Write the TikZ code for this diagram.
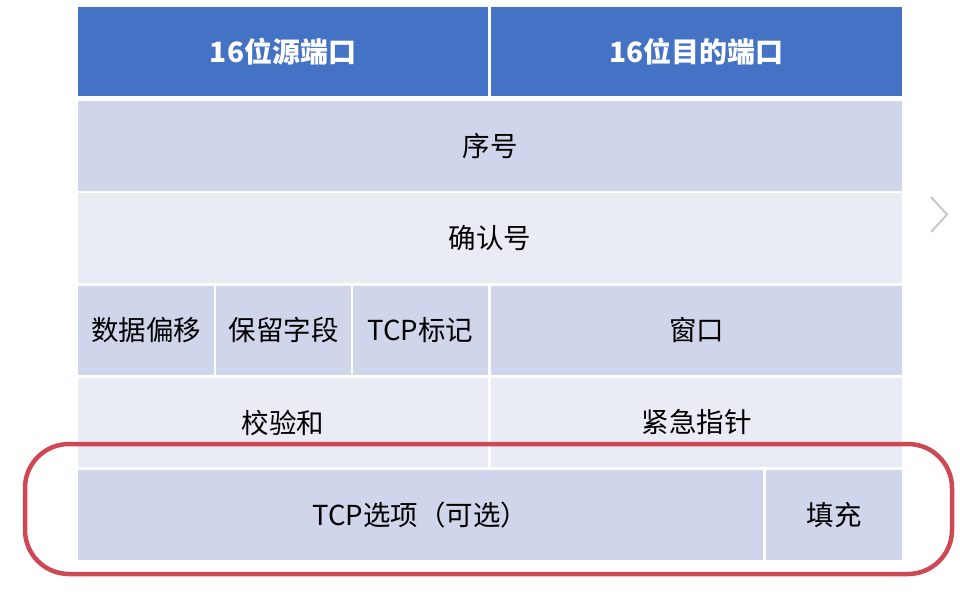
\documentclass[tikz,border=0pt]{standalone}
\usepackage{fontspec}
\newfontfamily\cjk{Noto Sans CJK SC}
\definecolor{hdrblue}{RGB}{68,114,196}
\definecolor{banddark}{RGB}{207,213,234}
\definecolor{bandlight}{RGB}{233,235,245}
\definecolor{markred}{RGB}{206,72,84}

\begin{document}
\begin{tikzpicture}[x=1pt, y=-1pt,
    cell/.style={inner sep=0pt, minimum height=89pt, font=\cjk\fontsize{27.5}{32}\selectfont},
    hdr/.style={cell, fill=hdrblue, text=white, font=\cjk\bfseries\fontsize{28}{32}\selectfont}]
                \useasboundingbox (0,0) rectangle (960,596);
                \node[hdr, minimum width=410pt] (src) at (283,51.5) {16位源端口};
                \node[hdr, minimum width=411pt] (dst) at (696.5,51.5) {16位目的端口};
                \node[cell, fill=banddark, minimum width=824pt] (seq) at (490,146) {序号};
                \node[cell, fill=bandlight, minimum width=824pt, minimum height=90pt] (ack) at (490,238) {确认号};
                \node[cell, fill=banddark, minimum width=136pt] (off) at (146,330.5) {数据偏移};
                \node[cell, fill=banddark, minimum width=135pt] (rsv) at (283.5,330.5) {保留字段};
                \node[cell, fill=banddark, minimum width=135pt] (flg) at (420.5,330.5) {TCP标记};
                \node[cell, fill=banddark, minimum width=411pt] (win) at (696.5,330.5) {窗口};
                \node[cell, fill=bandlight, minimum width=410pt] (chk) at (283,422.5) {校验和};
                \node[cell, fill=bandlight, minimum width=411pt] (urg) at (696.5,422.5) {紧急指针};
                \node[cell, fill=banddark, minimum width=685pt, minimum height=90pt] (opt) at (420.5,515) {TCP选项（可选）};
                \node[cell, fill=banddark, minimum width=136pt, minimum height=90pt] (pad) at (834,515) {填充};
                % highlight round the options row
                \draw[markred, line width=4.5pt, rounded corners=44pt] (25,444) rectangle (952,574);
                \draw[black!22, line width=2pt] (931,197) -- (947,214.5) -- (931,232);
            \end{tikzpicture}
\end{document}
